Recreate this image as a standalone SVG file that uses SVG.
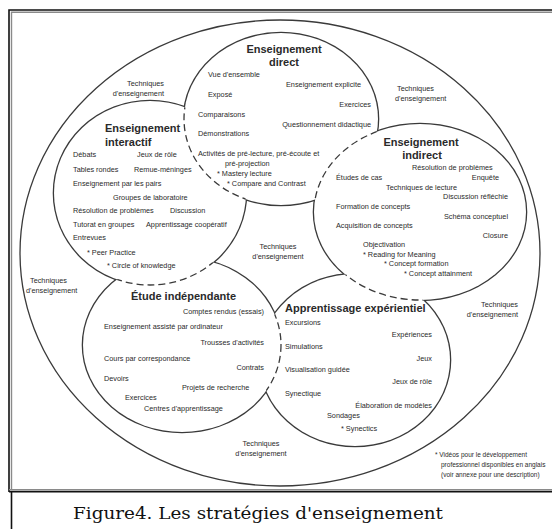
<svg xmlns="http://www.w3.org/2000/svg" width="552" height="529" viewBox="0 0 552 529">
<style>
.t{font-family:"Liberation Sans",Arial,sans-serif;font-size:7.3px;fill:#2a2a2a}
.h{font-family:"Liberation Sans",Arial,sans-serif;font-size:11px;font-weight:bold;fill:#2a2a2a}
.e{text-anchor:end}
.m{text-anchor:middle}
.n{font-size:6.5px}
.ring{fill:none;stroke:#3a3a3a;stroke-width:2.6}
.wf{fill:#fff;stroke:none}
.dash{fill:none;stroke:#3a3a3a;stroke-width:1.3;stroke-dasharray:7 4}
.frame{stroke:#111;stroke-width:1.6;fill:none}
.frame2{stroke:#8a8a8a;stroke-width:1.4;fill:none}
</style>
<defs>
<clipPath id="cI"><ellipse cx="150" cy="193" rx="96" ry="92"/></clipPath>
<clipPath id="cD"><ellipse cx="281" cy="119" rx="97" ry="86"/></clipPath>
<clipPath id="cE"><ellipse cx="355" cy="360" rx="95" ry="86"/></clipPath>
<clipPath id="cS"><ellipse cx="182" cy="345" rx="99" ry="87"/></clipPath>
</defs>
<rect x="0" y="0" width="552" height="529" fill="#fff"/>
<g id="frame">
<path class="frame" d="M9,492 V10 H552"/>
<path class="frame2" d="M11.5,490 V12.2 H552"/>
<path class="frame2" d="M9,489.6 H552"/>
<path class="frame" d="M9,491.6 H552"/>
<path class="frame" d="M11.5,492 V529"/>
</g>
<g id="shapes">
<ellipse cx="280" cy="253" rx="260" ry="233" fill="none" stroke="#3a3a3a" stroke-width="1.3"/>
<ellipse class="ring" cx="281" cy="119" rx="97" ry="86"/>
<ellipse class="ring" cx="150" cy="193" rx="96" ry="92"/>
<ellipse class="ring" cx="420" cy="212" rx="106" ry="88"/>
<ellipse class="ring" cx="355" cy="360" rx="95" ry="86"/>
<ellipse class="ring" cx="182" cy="345" rx="99" ry="87"/>
<ellipse class="wf" cx="281" cy="119" rx="97" ry="86"/>
<ellipse class="wf" cx="150" cy="193" rx="96" ry="92"/>
<ellipse class="wf" cx="420" cy="212" rx="106" ry="88"/>
<ellipse class="wf" cx="355" cy="360" rx="95" ry="86"/>
<ellipse class="wf" cx="182" cy="345" rx="99" ry="87"/>
</g>
<g id="connectors">
<ellipse class="dash" cx="281" cy="119" rx="97" ry="86" clip-path="url(#cI)"/>
<ellipse class="dash" cx="420" cy="212" rx="106" ry="88" clip-path="url(#cD)"/>
<ellipse class="dash" cx="420" cy="212" rx="106" ry="88" clip-path="url(#cE)"/>
<ellipse class="dash" cx="182" cy="345" rx="99" ry="87" clip-path="url(#cE)"/>
<ellipse class="dash" cx="150" cy="193" rx="96" ry="92" clip-path="url(#cS)"/>
</g>
<g id="direct">
<text class="h m" x="284" y="53">Enseignement</text>
<text class="h m" x="284" y="66">direct</text>
<text class="t" x="208" y="77">Vue d'ensemble</text>
<text class="t" x="286" y="87">Enseignement explicite</text>
<text class="t" x="208" y="97">Exposé</text>
<text class="t e" x="371" y="107">Exercices</text>
<text class="t" x="198" y="117">Comparaisons</text>
<text class="t e" x="371" y="127">Questionnement didactique</text>
<text class="t" x="198" y="136">Démonstrations</text>
<text class="t" x="198" y="156">Activités de pré-lecture, pré-écoute et</text>
<text class="t" x="225" y="166">pré-projection</text>
<text class="t" x="217" y="176">* Mastery lecture</text>
<text class="t" x="227" y="186">* Compare and Contrast</text>
</g>
<g id="interactif">
<text class="h" x="105" y="132">Enseignement</text>
<text class="h" x="105" y="146">interactif</text>
<text class="t" x="73" y="157">Débats</text>
<text class="t" x="137" y="157">Jeux de rôle</text>
<text class="t" x="73" y="172">Tables rondes</text>
<text class="t" x="134" y="172">Remue-méninges</text>
<text class="t" x="73" y="186">Enseignement par les pairs</text>
<text class="t" x="113" y="200">Groupes de laboratoire</text>
<text class="t" x="73" y="213">Résolution de problèmes</text>
<text class="t" x="170" y="213">Discussion</text>
<text class="t" x="73" y="227">Tutorat en groupes</text>
<text class="t" x="146" y="227">Apprentissage coopératif</text>
<text class="t" x="73" y="240">Entrevues</text>
<text class="t" x="87" y="255">* Peer Practice</text>
<text class="t" x="107" y="268">* Circle of knowledge</text>
</g>
<g id="indirect">
<text class="h m" x="421" y="146">Enseignement</text>
<text class="h m" x="422" y="159">indirect</text>
<text class="t" x="412" y="170">Résolution de problèmes</text>
<text class="t" x="336" y="180">Études de cas</text>
<text class="t e" x="499" y="180">Enquête</text>
<text class="t" x="386" y="190">Techniques de lecture</text>
<text class="t e" x="508" y="199">Discussion réfléchie</text>
<text class="t" x="336" y="209">Formation de concepts</text>
<text class="t e" x="508" y="219">Schéma conceptuel</text>
<text class="t" x="336" y="228">Acquisition de concepts</text>
<text class="t e" x="508" y="238">Closure</text>
<text class="t" x="363" y="247">Objectivation</text>
<text class="t" x="363" y="257">* Reading for Meaning</text>
<text class="t" x="384" y="266">* Concept formation</text>
<text class="t" x="404" y="276">* Concept attainment</text>
</g>
<g id="independante">
<text class="h" x="131" y="300">Étude indépendante</text>
<text class="t e" x="264" y="314">Comptes rendus (essais)</text>
<text class="t" x="104" y="329">Enseignement assisté par ordinateur</text>
<text class="t e" x="264" y="345">Trousses d'activités</text>
<text class="t" x="104" y="361">Cours par correspondance</text>
<text class="t e" x="264" y="370">Contrats</text>
<text class="t" x="104" y="381">Devoirs</text>
<text class="t" x="182" y="390">Projets de recherche</text>
<text class="t" x="125" y="400">Exercices</text>
<text class="t" x="144" y="411">Centres d'apprentissage</text>
</g>
<g id="experientiel">
<text class="h" x="285" y="312">Apprentissage expérientiel</text>
<text class="t" x="285" y="325">Excursions</text>
<text class="t e" x="432" y="337">Expériences</text>
<text class="t" x="285" y="349">Simulations</text>
<text class="t e" x="432" y="361">Jeux</text>
<text class="t" x="285" y="372">Visualisation guidée</text>
<text class="t e" x="432" y="384">Jeux de rôle</text>
<text class="t" x="285" y="396">Synectique</text>
<text class="t e" x="432" y="408">Élaboration de modèles</text>
<text class="t" x="327" y="418">Sondages</text>
<text class="t" x="341" y="431">* Synectics</text>
</g>
<g id="techniques">
<text class="t e" x="164" y="86">Techniques</text>
<text class="t e" x="164" y="96">d'enseignement</text>
<text class="t" x="397" y="91">Techniques</text>
<text class="t" x="395" y="101">d'enseignement</text>
<text class="t" x="30" y="283">Techniques</text>
<text class="t" x="26" y="293">d'enseignement</text>
<text class="t m" x="278" y="249">Techniques</text>
<text class="t m" x="278" y="259">d'enseignement</text>
<text class="t e" x="518" y="307">Techniques</text>
<text class="t e" x="518" y="317">d'enseignement</text>
<text class="t m" x="261" y="446">Techniques</text>
<text class="t m" x="261" y="456">d'enseignement</text>
</g>
<g id="note">
<text class="t n" x="435" y="457">* Vidéos pour le développement</text>
<text class="t n" x="441" y="467">professionnel disponibles en anglais</text>
<text class="t n" x="441" y="477">(voir annexe pour une description)</text>
</g>
<g id="caption">
<text x="258" y="519" text-anchor="middle" font-family="'DejaVu Serif','Liberation Serif',serif" font-size="17" fill="#111" textLength="370" lengthAdjust="spacingAndGlyphs">Figure4. Les stratégies d'enseignement</text>
</g>
</svg>
